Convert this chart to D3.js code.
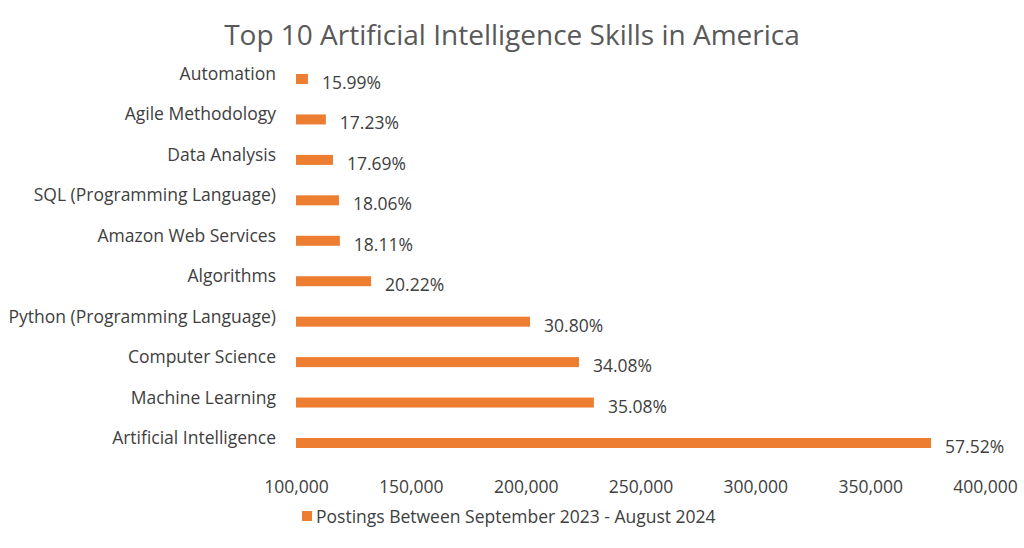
<!DOCTYPE html>
<html>
<head>
<meta charset="utf-8">
<script src="https://cdn.jsdelivr.net/npm/d3@7"></script>
<style>
  body { margin: 0; background: #fff; }
  text { font-family: "Open Sans", "Noto Sans", sans-serif; }
</style>
</head>
<body>
<svg id="chart" width="1024" height="548"></svg>
<script>
// data, top to bottom
const skills = ["Automation", "Agile Methodology", "Data Analysis", "SQL (Programming Language)",
  "Amazon Web Services", "Algorithms", "Python (Programming Language)", "Computer Science",
  "Machine Learning", "Artificial Intelligence"];
const postings = [105200, 113000, 116100, 118700, 119100, 132700, 201900, 223200, 229700, 376500];
const shares = ["15.99%", "17.23%", "17.69%", "18.06%", "18.11%", "20.22%", "30.80%", "34.08%", "35.08%", "57.52%"];
const xTicks = [100000, 150000, 200000, 250000, 300000, 350000, 400000];

const svg = d3.select("#chart");
const txt = "#404040";
const fs = "17.5px";

const x = d3.scaleLinear().domain([100000, 400000]).range([296, 985]);
const y = d3.scalePoint().domain(skills).range([79, 443]);

svg.append("text")
  .attr("x", 512).attr("y", 45)
  .attr("text-anchor", "middle")
  .attr("fill", "#595959")
  .style("font-size", "28px")
  .text("Top 10 Artificial Intelligence Skills in America");

// bars
svg.selectAll("rect.bar")
  .data(skills)
  .join("rect")
  .attr("class", "bar")
  .attr("x", x(100000))
  .attr("y", d => y(d) - 5)
  .attr("height", 10)
  .attr("width", (d, i) => x(postings[i]) - x(100000))
  .attr("fill", "#ED7D31");

// category labels
svg.selectAll("text.cat")
  .data(skills)
  .join("text")
  .attr("class", "cat")
  .attr("x", 276)
  .attr("y", d => y(d) + 1)
  .attr("text-anchor", "end")
  .attr("fill", txt)
  .style("font-size", fs)
  .text(d => d);

// value labels
svg.selectAll("text.val")
  .data(skills)
  .join("text")
  .attr("class", "val")
  .attr("x", (d, i) => x(postings[i]) + 14)
  .attr("y", d => y(d) + 10)
  .attr("fill", txt)
  .style("font-size", fs)
  .text((d, i) => shares[i]);

// x axis labels
const axis = svg.append("g")
  .attr("transform", "translate(0,478)")
  .call(d3.axisBottom(x).tickValues(xTicks).tickFormat(d3.format(",")).tickSize(0));
axis.select(".domain").remove();
axis.selectAll("text")
  .attr("fill", txt)
  .style("font-size", fs)
  .style("font-family", "'Open Sans', 'Noto Sans', sans-serif");

// legend
svg.append("rect").attr("x", 302).attr("y", 511).attr("width", 10).attr("height", 10).attr("fill", "#ED7D31");
svg.append("text")
  .attr("x", 316).attr("y", 523)
  .attr("fill", txt)
  .style("font-size", fs)
  .text("Postings Between September 2023 - August 2024");
</script>
</body>
</html>
